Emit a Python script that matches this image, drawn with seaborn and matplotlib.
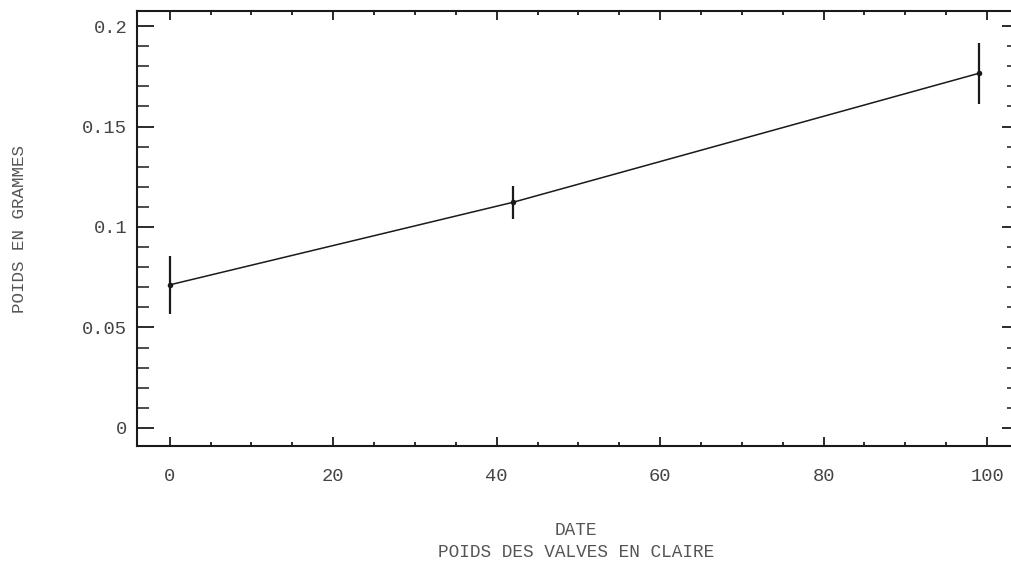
import numpy as np
import pandas as pd
import matplotlib
matplotlib.use("Agg")
import matplotlib.pyplot as plt
from matplotlib.ticker import MultipleLocator, FixedLocator, FixedFormatter
import seaborn as sns

# Poids des valves mesures en claire (moyenne et ecart)
dates = [0, 42, 99]
poids = [0.0712, 0.1123, 0.1765]
ecart = [0.0145, 0.0083, 0.0152]

x_ticks = [0, 20, 40, 60, 80, 100]
y_ticks = [0, 0.05, 0.1, 0.15, 0.2]
y_tick_labels = ["0", "0.05", "0.1", "0.15", "0.2"]

sns.set_theme(style="ticks")
plt.rcParams["font.family"] = ["Liberation Mono", "DejaVu Sans Mono"]

ink = "#1a1a1a"
txt = "#444444"
lab = "#555555"

fig = plt.figure(figsize=(10.12, 5.67), dpi=100)
ax = fig.add_axes([0.1354, 0.2134, 0.8715, 0.7672])

df = pd.DataFrame({"date": dates, "poids": poids})
sns.lineplot(data=df, x="date", y="poids", ax=ax, color=ink, linewidth=1.1,
             marker="o", markersize=4, markeredgewidth=0)
ax.errorbar(dates, poids, yerr=ecart, fmt="none", ecolor=ink, elinewidth=1.6,
            capsize=0)

ax.set_xlim(-4.0, 103.9)
ax.set_ylim(-0.009, 0.2075)

ax.xaxis.set_major_locator(FixedLocator(x_ticks))
ax.xaxis.set_minor_locator(MultipleLocator(5))
ax.yaxis.set_major_locator(FixedLocator(y_ticks))
ax.yaxis.set_major_formatter(FixedFormatter(y_tick_labels))
ax.yaxis.set_minor_locator(MultipleLocator(0.01))

for s in ax.spines.values():
    s.set_visible(True)
    s.set_linewidth(1.5)
    s.set_color(ink)

ax.tick_params(axis="y", which="major", direction="in", length=12.5, width=1.3,
               left=True, right=True, color=ink, labelsize=13.5, labelcolor=txt, pad=7)
ax.tick_params(axis="y", which="minor", direction="in", length=8.5, width=1.1,
               left=True, right=True, color=ink)
ax.tick_params(axis="x", which="major", direction="in", length=6.5, width=1.3,
               bottom=True, top=True, color=ink, labelsize=13.5, labelcolor=txt, pad=16)
ax.tick_params(axis="x", which="minor", direction="in", length=3, width=1.3,
               bottom=True, top=True, color=ink)

ax.set_xlabel("")
ax.set_ylabel("")
fig.text(0.019, 0.596, "POIDS EN GRAMMES", rotation=90, ha="center", va="center",
         fontsize=12.6, color=lab)
fig.text(0.569, 0.065, "DATE", ha="center", va="center", fontsize=12.8, color=lab)
fig.text(0.569, 0.025, "POIDS DES VALVES EN CLAIRE", ha="center", va="center",
         fontsize=12.8, color=lab)

fig.savefig("out.png", dpi=100, facecolor="white")
